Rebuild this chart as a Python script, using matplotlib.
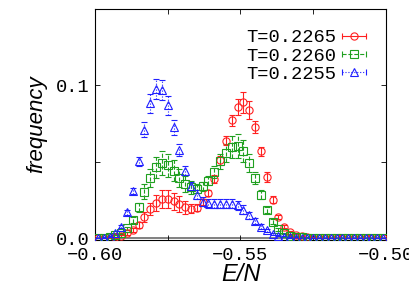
import matplotlib
matplotlib.use("Agg")
import matplotlib.pyplot as plt
from matplotlib.ticker import FixedLocator, FixedFormatter
from matplotlib.legend_handler import HandlerLine2D, HandlerTuple

E = [-0.599, -0.597, -0.595, -0.593, -0.591, -0.589, -0.587, -0.585, -0.583, -0.581,
     -0.579, -0.577, -0.575, -0.573, -0.571, -0.569, -0.567, -0.565, -0.563, -0.561,
     -0.559, -0.557, -0.555, -0.553, -0.551, -0.549, -0.547, -0.545, -0.543, -0.541,
     -0.539, -0.537, -0.535, -0.533, -0.531, -0.529, -0.527, -0.525, -0.523, -0.521,
     -0.519, -0.517, -0.515, -0.513, -0.511, -0.509, -0.507, -0.505, -0.503, -0.501]

labels = ["T=0.2265", "T=0.2260", "T=0.2255"]

red = [0.0, 0.0001, 0.0002, 0.0005, 0.0013, 0.0031, 0.0053, 0.0086, 0.0138, 0.0189,
       0.0230, 0.0256, 0.0255, 0.0240, 0.0222, 0.0200, 0.0192, 0.0199, 0.0235, 0.0296,
       0.0388, 0.0509, 0.0636, 0.0770, 0.0858, 0.0888, 0.0840, 0.0726, 0.0568, 0.0400,
       0.0252, 0.0138, 0.0074, 0.0037, 0.0020, 0.0010, 0.0005, 0.0002, 0.0001, 0.0,
       0.0, 0.0, 0.0, 0.0, 0.0, 0.0, 0.0, 0.0, 0.0, 0.0]
red_err = [0.0002, 0.0002, 0.0002, 0.0003, 0.0005, 0.0010, 0.0015, 0.0020, 0.0030, 0.0040,
           0.0050, 0.0058, 0.0058, 0.0055, 0.0050, 0.0040, 0.0030, 0.0025, 0.0020, 0.0020,
           0.0025, 0.0030, 0.0030, 0.0035, 0.0055, 0.0070, 0.0060, 0.0040, 0.0030, 0.0030,
           0.0020, 0.0015, 0.0010, 0.0008, 0.0005, 0.0003, 0.0002, 0.0002, 0.0002, 0.0002,
           0.0002, 0.0002, 0.0002, 0.0002, 0.0002, 0.0002, 0.0002, 0.0002, 0.0002, 0.0002]

green = [0.0, 0.0002, 0.0007, 0.0020, 0.0030, 0.0065, 0.0118, 0.0202, 0.0303, 0.0393,
         0.0463, 0.0491, 0.0476, 0.0441, 0.0393, 0.0353, 0.0331, 0.0322, 0.0338, 0.0375,
         0.0434, 0.0503, 0.0558, 0.0597, 0.0603, 0.0571, 0.0492, 0.0393, 0.0283, 0.0184,
         0.0107, 0.0057, 0.0030, 0.0015, 0.0008, 0.0004, 0.0002, 0.0001, 0.0, 0.0,
         0.0, 0.0, 0.0, 0.0, 0.0, 0.0, 0.0, 0.0, 0.0, 0.0]
green_err = [0.0003, 0.0003, 0.0003, 0.0003, 0.0005, 0.0010, 0.0020, 0.0030, 0.0050, 0.0060,
             0.0070, 0.0077, 0.0075, 0.0070, 0.0060, 0.0050, 0.0040, 0.0030, 0.0030, 0.0030,
             0.0040, 0.0050, 0.0060, 0.0070, 0.0077, 0.0070, 0.0060, 0.0040, 0.0030, 0.0020,
             0.0015, 0.0010, 0.0005, 0.0003, 0.0002, 0.0002, 0.0002, 0.0002, 0.0002, 0.0002,
             0.0002, 0.0002, 0.0002, 0.0002, 0.0002, 0.0002, 0.0002, 0.0002, 0.0002, 0.0002]

blue = [0.0, 0.0002, 0.0007, 0.0030, 0.0075, 0.0169, 0.0309, 0.0502, 0.0710, 0.0882,
        0.0978, 0.0967, 0.0868, 0.0726, 0.0575, 0.0441, 0.0338, 0.0283, 0.0237, 0.0228,
        0.0224, 0.0224, 0.0226, 0.0224, 0.0215, 0.0185, 0.0148, 0.0110, 0.0075, 0.0050,
        0.0028, 0.0015, 0.0008, 0.0004, 0.0002, 0.0001, 0.0, 0.0, 0.0, 0.0,
        0.0, 0.0, 0.0, 0.0, 0.0, 0.0, 0.0, 0.0, 0.0, 0.0]
blue_err = [0.0003, 0.0003, 0.0003, 0.0005, 0.0010, 0.0015, 0.0020, 0.0030, 0.0050, 0.0060,
            0.0065, 0.0065, 0.0060, 0.0050, 0.0040, 0.0030, 0.0030, 0.0030, 0.0030, 0.0030,
            0.0030, 0.0030, 0.0030, 0.0030, 0.0030, 0.0030, 0.0025, 0.0020, 0.0015, 0.0010,
            0.0008, 0.0005, 0.0003, 0.0002, 0.0002, 0.0002, 0.0002, 0.0002, 0.0002, 0.0002,
            0.0002, 0.0002, 0.0002, 0.0002, 0.0002, 0.0002, 0.0002, 0.0002, 0.0002, 0.0002]

mono = ["Liberation Mono", "DejaVu Sans Mono"]
sans = ["Liberation Sans", "DejaVu Sans"]

fig = plt.figure(figsize=(4.09, 2.86), dpi=100)
ax = fig.add_axes([95/409, 1-240/286, (386-95)/409, (240-9)/286])

ax.axhline(0, color="#808080", lw=1.4, zorder=1)

series = [
    (red, red_err, "#ff2020", "o", "-"),
    (green, green_err, "#20a020", "s", "--"),
    (blue, blue_err, "#2020ff", "^", ":"),
]
handles = []
hmap = {}
for (vals, errs, col, mk, ls), lab in zip(series, labels):
    c = ax.errorbar(E, vals, yerr=errs, fmt=mk, mfc="none", mec=col, ms=5.2, mew=0.8,
                    ecolor=col, elinewidth=0.8, capsize=2, capthick=0.8, color=col,
                    label=lab, zorder=3)
    for lc in c[2]:
        lc.set_linestyle(ls)
    hticks, = ax.plot([], [], marker="|", ms=5, mew=0.8, color=col, ls=ls, lw=0.8)
    hmark, = ax.plot([], [], marker=mk, mfc="none", mec=col, ms=5.2, mew=0.8, ls="none")
    hmap[hticks] = HandlerLine2D(numpoints=2, marker_pad=0)
    hmap[hmark] = HandlerLine2D(numpoints=1)
    handles.append((hticks, hmark))
hmap[tuple] = HandlerTuple(ndivide=1, pad=0)

ax.set_xlim(-0.60, -0.50)
ax.set_ylim(-0.0013, 0.15)

ax.xaxis.set_major_locator(FixedLocator([-0.60, -0.55, -0.50]))
ax.xaxis.set_major_formatter(FixedFormatter(["\u22120.60", "\u22120.55", "\u22120.50"]))
ax.xaxis.set_minor_locator(FixedLocator([-0.575, -0.525]))
ax.yaxis.set_major_locator(FixedLocator([0.0, 0.1]))
ax.yaxis.set_major_formatter(FixedFormatter(["0.0", "0.1"]))
ax.yaxis.set_minor_locator(FixedLocator([0.05]))

ax.tick_params(which="both", direction="in", top=True, right=True, length=3.5, width=0.6,
               labelsize=13.5)
ax.tick_params(axis="x", pad=5)
ax.tick_params(axis="y", pad=4)
for t in ax.get_xticklabels() + ax.get_yticklabels():
    t.set_family(mono)
for s in ax.spines.values():
    s.set_linewidth(0.8)

ax.set_xlabel("E/N", family=sans, style="italic", fontsize=17, labelpad=-1)
ax.set_ylabel("frequency", family=sans, style="italic", fontsize=16, labelpad=6)

leg = ax.legend(handles, labels, handler_map=hmap, loc="upper right", frameon=False,
                markerfirst=False, prop={"family": mono, "size": 13.5},
                handlelength=1.3, handletextpad=0.3, labelspacing=0.07,
                borderaxespad=0.3, bbox_to_anchor=(0.977, 0.97))

fig.savefig("out.png", dpi=100)
